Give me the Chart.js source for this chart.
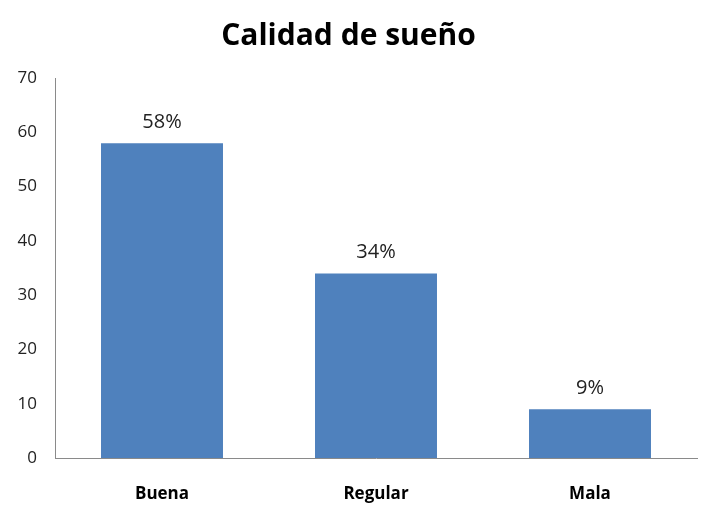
<!DOCTYPE html>
<html>
<head>
<meta charset="utf-8">
<script src="https://cdn.jsdelivr.net/npm/chart.js@4"></script>
<style>
    html, body { margin: 0; padding: 0; background: #fff; }
    #wrap { width: 713px; height: 524px; }
</style>
</head>
<body>
<div id="wrap"><canvas id="sleepChart"></canvas></div>
<script>
const categories = ['Buena', 'Regular', 'Mala'];
const values = [58, 34, 9];
const valueLabels = ['58%', '34%', '9%'];
const yTicks = [0, 10, 20, 30, 40, 50, 60, 70];

// draws the "58%" labels above each bar
const barLabels = {
    id: 'barLabels',
    afterDatasetsDraw(chart) {
        const ctx = chart.ctx;
        const meta = chart.getDatasetMeta(0);
        ctx.save();
        ctx.font = '20px "Open Sans", sans-serif';
        ctx.fillStyle = '#222';
        ctx.textAlign = 'center';
        ctx.textBaseline = 'bottom';
        meta.data.forEach((bar, i) => {
            ctx.fillText(valueLabels[i], bar.x, bar.y - 11);
        });
        ctx.restore();
    }
};

document.addEventListener('DOMContentLoaded', () => {
    const ctx = document.getElementById('sleepChart').getContext('2d');
    new Chart(ctx, {
        type: 'bar',
        data: {
            labels: categories,
            datasets: [{
                data: values,
                backgroundColor: '#4F81BD',
                borderWidth: 0,
                categoryPercentage: 1,
                barPercentage: 0.57
            }]
        },
        options: {
            responsive: true,
            maintainAspectRatio: false,
            animation: false,
            layout: { padding: { left: 0, right: 16, bottom: 0 } },
            plugins: {
                legend: { display: false },
                tooltip: { enabled: false },
                title: {
                    display: true,
                    text: 'Calidad de sueño',
                    color: '#000',
                    font: { family: '"Open Sans", sans-serif', size: 30, weight: 'bold' },
                    padding: { top: 18, bottom: 24 }
                }
            },
            scales: {
                x: {
                    grid: { display: false, drawTicks: false },
                    border: { color: '#8a8a8a', width: 1 },
                    ticks: {
                        color: '#000',
                        padding: 26,
                        font: { family: '"Open Sans", sans-serif', size: 17, weight: 'bold' }
                    },
                    afterFit(scale) { scale.height = 66; }
                },
                y: {
                    min: 0,
                    max: 70,
                    afterBuildTicks(scale) {
                        scale.ticks = yTicks.map(v => ({ value: v }));
                    },
                    grid: { display: false, drawTicks: false },
                    border: { color: '#8a8a8a', width: 1 },
                    ticks: {
                        color: '#222',
                        padding: 18,
                        font: { family: '"Open Sans", sans-serif', size: 17 }
                    },
                    afterFit(scale) { scale.width = 55; }
                }
            }
        },
        plugins: [barLabels]
    });
});
</script>
</body>
</html>
